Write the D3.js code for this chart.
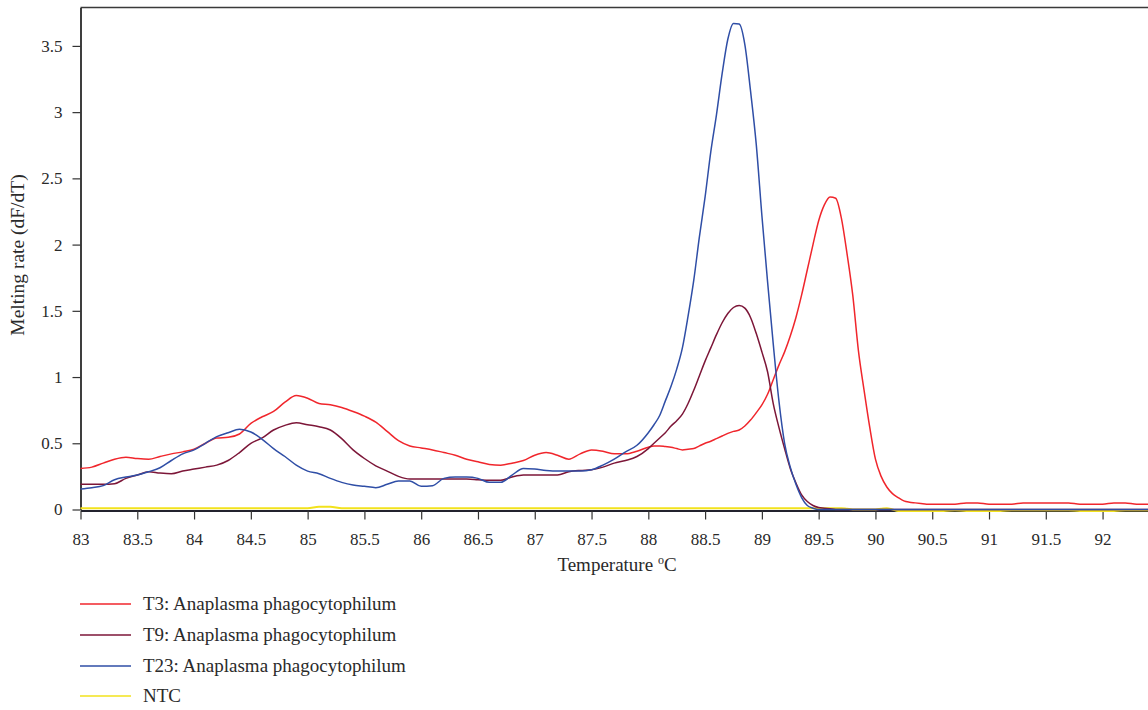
<!DOCTYPE html>
<html>
<head>
<meta charset="utf-8">
<script src="https://cdn.jsdelivr.net/npm/d3@7"></script>
<style>
    body { margin: 0; background: #ffffff; }
    text { font-family: "Liberation Serif", "Times New Roman", serif; fill: #2a2a2a; }
</style>
</head>
<body>
<svg id="chart" width="1148" height="710"></svg>
<script>

// temperature grid (denser around the peaks)
const temps = [
    83, 83.1, 83.2, 83.3, 83.4, 83.5, 83.6, 83.7, 83.8, 83.9,
    84, 84.1, 84.2, 84.3, 84.4, 84.5, 84.6, 84.7, 84.8, 84.9,
    85, 85.1, 85.2, 85.3, 85.4, 85.5, 85.6, 85.7, 85.8, 85.9,
    86, 86.1, 86.2, 86.3, 86.4, 86.5, 86.6, 86.7, 86.8, 86.9,
    87, 87.1, 87.2, 87.3, 87.4, 87.5, 87.6, 87.7, 87.8, 87.9,
    88,
    88.05, 88.1, 88.15, 88.2, 88.25, 88.3, 88.35, 88.4, 88.45, 88.5,
    88.55, 88.6, 88.65, 88.7, 88.75, 88.8, 88.85, 88.9, 88.95, 89,
    89.05, 89.1, 89.15, 89.2, 89.25, 89.3, 89.35, 89.4, 89.45, 89.5,
    89.55, 89.6, 89.65, 89.7, 89.75, 89.8, 89.85, 89.9, 89.95, 90,
    90.05, 90.1, 90.15, 90.2, 90.25, 90.3, 90.35, 90.4, 90.45, 90.5,
    90.6, 90.7, 90.8, 90.9, 91, 91.1, 91.2, 91.3, 91.4, 91.5,
    91.6, 91.7, 91.8, 91.9, 92, 92.1, 92.2, 92.3, 92.4
];

const t3 = [
    0.31, 0.32, 0.35, 0.38, 0.395, 0.385, 0.38, 0.40, 0.42, 0.435,
    0.455, 0.50, 0.54, 0.545, 0.57, 0.65, 0.70, 0.74, 0.81, 0.86,
    0.84, 0.80, 0.79, 0.77, 0.74, 0.705, 0.66, 0.59, 0.52, 0.48,
    0.465, 0.45, 0.43, 0.41, 0.38, 0.36, 0.34, 0.335, 0.35, 0.37,
    0.41, 0.43, 0.41, 0.38, 0.42, 0.45, 0.44, 0.42, 0.42, 0.44,
    0.47,
    0.48, 0.48, 0.475, 0.47, 0.46, 0.45, 0.455, 0.46, 0.48, 0.50,
    0.515, 0.535, 0.555, 0.575, 0.59, 0.60, 0.63, 0.675, 0.73, 0.79,
    0.87, 0.98, 1.09, 1.19, 1.31, 1.45, 1.62, 1.81, 2.00, 2.18,
    2.30, 2.36, 2.35, 2.20, 1.93, 1.62, 1.20, 0.90, 0.62, 0.38,
    0.25, 0.17, 0.12, 0.09, 0.065, 0.055, 0.05, 0.045, 0.04, 0.04,
    0.04, 0.04, 0.05, 0.05, 0.04, 0.04, 0.04, 0.05, 0.05, 0.05,
    0.05, 0.05, 0.04, 0.04, 0.04, 0.05, 0.05, 0.04, 0.04
];

const t9 = [
    0.19, 0.19, 0.19, 0.195, 0.235, 0.26, 0.285, 0.275, 0.27, 0.29,
    0.305, 0.32, 0.335, 0.37, 0.43, 0.50, 0.54, 0.60, 0.635, 0.655,
    0.64, 0.625, 0.60, 0.535, 0.45, 0.385, 0.33, 0.29, 0.25, 0.23,
    0.23, 0.23, 0.23, 0.23, 0.23, 0.225, 0.22, 0.22, 0.245, 0.26,
    0.26, 0.26, 0.26, 0.285, 0.295, 0.30, 0.32, 0.35, 0.37, 0.40,
    0.46,
    0.50, 0.54, 0.58, 0.63, 0.67, 0.72, 0.80, 0.90, 1.01, 1.12,
    1.22, 1.32, 1.41, 1.48, 1.525, 1.54, 1.52, 1.45, 1.33, 1.19,
    1.04, 0.80, 0.62, 0.46, 0.31, 0.20, 0.11, 0.06, 0.03, 0.015,
    0.01, 0.005, 0, 0, 0, 0, 0, 0, 0, 0,
    0, 0, 0, 0, 0, 0, 0, 0, 0, 0,
    0, 0, 0, 0, 0, 0, 0, 0, 0, 0,
    0, 0, 0, 0, 0, 0, 0, 0, 0
];

const t23 = [
    0.155, 0.165, 0.18, 0.225, 0.245, 0.26, 0.285, 0.315, 0.37, 0.42,
    0.45, 0.50, 0.55, 0.58, 0.605, 0.585, 0.53, 0.46, 0.40, 0.335,
    0.29, 0.27, 0.235, 0.205, 0.185, 0.175, 0.165, 0.19, 0.215, 0.215,
    0.175, 0.18, 0.235, 0.245, 0.245, 0.235, 0.205, 0.205, 0.26, 0.31,
    0.305, 0.295, 0.29, 0.29, 0.29, 0.30, 0.335, 0.38, 0.435, 0.485,
    0.58,
    0.64, 0.71, 0.82, 0.93, 1.06, 1.22, 1.46, 1.73, 2.06, 2.36,
    2.70, 2.98, 3.29, 3.55, 3.67, 3.665, 3.51, 3.16, 2.76, 2.22,
    1.72, 1.25, 0.82, 0.50, 0.32, 0.19, 0.09, 0.03, 0.01, 0,
    0, 0, 0, 0, 0, 0, 0, 0, 0, 0,
    0, 0, 0, 0, 0, 0, 0, 0, 0, 0,
    0, 0, 0, 0, 0, 0, 0, 0, 0, 0,
    0, 0, 0, 0, 0, 0, 0, 0, 0
];

const ntc = [
    0.01, 0.01, 0.01, 0.01, 0.01, 0.01, 0.01, 0.01, 0.01, 0.01,
    0.01, 0.01, 0.01, 0.01, 0.01, 0.01, 0.01, 0.01, 0.01, 0.01,
    0.01, 0.02, 0.02, 0.01, 0.01, 0.01, 0.01, 0.01, 0.01, 0.01,
    0.01, 0.01, 0.01, 0.01, 0.01, 0.01, 0.01, 0.01, 0.01, 0.01,
    0.01, 0.01, 0.01, 0.01, 0.01, 0.01, 0.01, 0.01, 0.01, 0.01,
    0.01,
    0.01, 0.01, 0.01, 0.01, 0.01, 0.01, 0.01, 0.01, 0.01, 0.01,
    0.01, 0.01, 0.01, 0.01, 0.01, 0.01, 0.01, 0.01, 0.01, 0.01,
    0.01, 0.01, 0.01, 0.01, 0.01, 0.01, 0.01, 0.01, 0.01, 0.01,
    0.01, 0.01, 0.01, 0.01, 0.005, 0, 0, 0, 0, 0,
    0.005, 0.01, 0, -0.012, -0.012, -0.012, -0.012, -0.012, -0.012, -0.012,
    -0.012, -0.005, -0.012, -0.012, -0.012, -0.012, -0.005, -0.005, -0.005, -0.005,
    -0.005, -0.005, -0.012, -0.012, -0.012, -0.012, -0.005, -0.005, -0.005
];

const seriesNames = [
    "T3: Anaplasma phagocytophilum",
    "T9: Anaplasma phagocytophilum",
    "T23: Anaplasma phagocytophilum",
    "NTC"
];
const seriesColors = ["#f0262c", "#7c1638", "#2f4ea6", "#f2e21c"];

const xTicks = [83, 83.5, 84, 84.5, 85, 85.5, 86, 86.5, 87, 87.5, 88, 88.5, 89, 89.5, 90, 90.5, 91, 91.5, 92];
const yTicks = [0, 0.5, 1, 1.5, 2, 2.5, 3, 3.5];


class meltView {

    constructor() {

        this.svg = d3.select("#chart");

        this.left = 80.5;
        this.right = 1148;
        this.top = 7.5;
        this.bottom = 509.5;

        this.x = d3.scaleLinear()
            .domain([83, 92.4])
            .range([this.left, this.right]);

        this.y = d3.scaleLinear()
            .domain([0, 3.79])
            .range([this.bottom, this.top]);

        this.series = [t3, t9, t23, ntc];

        this.drawAxes();
        this.drawCurves();
        this.drawLegend();
    }

    drawAxes() {

        let fmt = d3.format("~g");

        let xaxis = this.svg.append("g")
            .attr("transform", "translate(0," + (this.bottom + 1) + ")")
            .call(d3.axisBottom(this.x).tickValues(xTicks).tickFormat(fmt)
                .tickSize(9).tickSizeOuter(0).tickPadding(13));

        xaxis.select(".domain").attr("stroke", "#23232e").attr("stroke-width", 2);
        xaxis.selectAll(".tick line").attr("stroke", "#333").attr("stroke-width", 1.2);
        xaxis.selectAll(".tick text").style("font-size", "17px")
            .style("font-family", "Liberation Serif").attr("fill", "#2a2a2a");

        let yaxis = this.svg.append("g")
            .attr("transform", "translate(" + this.left + ",0)")
            .call(d3.axisLeft(this.y).tickValues(yTicks).tickFormat(fmt)
                .tickSize(8).tickSizeOuter(0).tickPadding(10));

        yaxis.select(".domain").attr("stroke", "#2a2a2a").attr("stroke-width", 1.8);
        yaxis.selectAll(".tick line").attr("stroke", "#333").attr("stroke-width", 1.2);
        yaxis.selectAll(".tick text").style("font-size", "17px")
            .style("font-family", "Liberation Serif").attr("fill", "#2a2a2a");

        // top frame line
        this.svg.append("line")
            .attr("x1", this.left).attr("x2", this.right)
            .attr("y1", this.top).attr("y2", this.top)
            .attr("stroke", "#3a3a3a").attr("stroke-width", 1.6);

        this.svg.append("text")
            .attr("x", 617).attr("y", 571)
            .attr("text-anchor", "middle")
            .style("font-size", "19px")
            .text("Temperature ")
            .append("tspan")
            .attr("dy", -7).style("font-size", "12px").text("o")
            .select(function () { return this.parentNode; })
            .append("tspan")
            .attr("dy", 7).text("C");

        this.svg.append("text")
            .attr("transform", "translate(24,255) rotate(-90)")
            .attr("text-anchor", "middle")
            .style("font-size", "19.5px")
            .text("Melting rate (dF/dT)");
    }

    drawCurves() {

        let that = this;

        let line = d3.line()
            .x((d, i) => that.x(temps[i]))
            .y(d => that.y(d))
            .curve(d3.curveMonotoneX);

        // NTC first so the samples sit above it
        let order = [3, 0, 1, 2];

        for (let k = 0; k < order.length; k++) {
            let i = order[k];
            if (this.series[i].length !== temps.length) {
                console.error("length mismatch", seriesNames[i], this.series[i].length);
            }
            this.svg.append("path")
                .datum(this.series[i])
                .attr("fill", "none")
                .attr("stroke", seriesColors[i])
                .attr("stroke-width", i === 3 ? 2 : 1.5)
                .attr("d", line);
        }
    }

    drawLegend() {

        let rows = [604, 635, 666, 696];

        for (let i = 0; i < seriesNames.length; i++) {
            this.svg.append("line")
                .attr("x1", 80).attr("x2", 131)
                .attr("y1", rows[i]).attr("y2", rows[i])
                .attr("stroke", seriesColors[i])
                .attr("stroke-width", 1.5);

            this.svg.append("text")
                .attr("x", 143).attr("y", rows[i] + 6)
                .style("font-size", "19px")
                .text(seriesNames[i]);
        }
    }
}

new meltView();

</script>
</body>
</html>
